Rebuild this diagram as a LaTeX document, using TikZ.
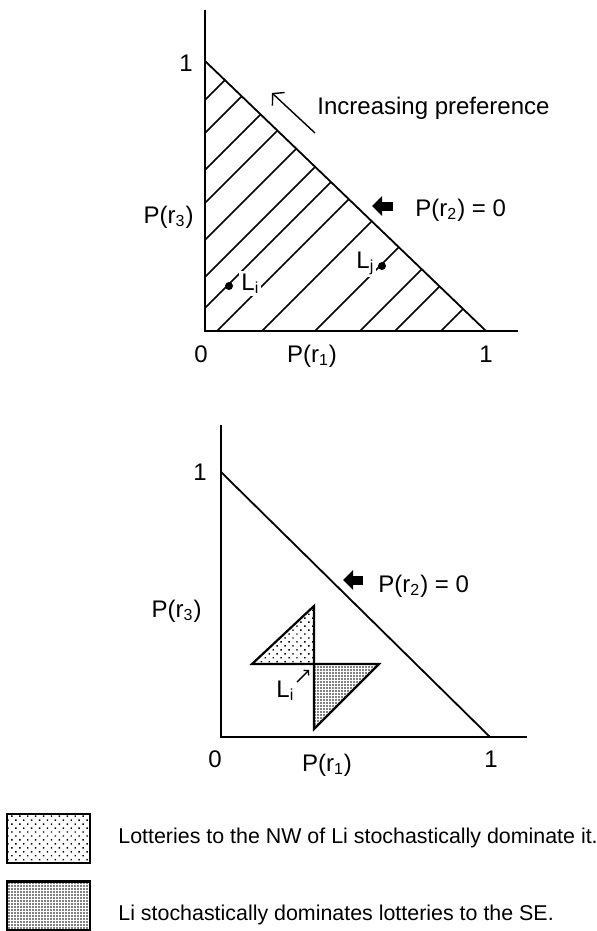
\documentclass[tikz,border=0pt]{standalone}
\usepackage{fontspec}
\setmainfont{Liberation Sans}
\usetikzlibrary{arrows.meta,patterns.meta}

\begin{document}
\begin{tikzpicture}[x=0.5pt,y=-0.5pt,>=Latex,
  every node/.style={font=\fontsize{12}{14}\selectfont,inner sep=0pt},
  legtext/.style={font=\fontsize{10.7}{13}\selectfont},
  axis/.style={line width=1.2pt},
  budget/.style={line width=0.9pt},
  hatchline/.style={line width=0.85pt},
  tri/.style={line width=1.1pt,line join=miter},
  legbox/.style={draw,line width=1.3pt,minimum width=41.5pt,minimum height=24.5pt},
  fatarrow/.style={line width=4.5pt,-{Triangle[length=5pt,width=9.5pt]}},
  bigbarb/.style={line width=0.7pt,-{Straight Barb[length=4pt,width=9pt]}},
  smallbarb/.style={line width=0.7pt,-{Straight Barb[length=1.6pt,width=3.6pt]}},
  nwfill/.style={pattern={Dots[distance=2.8pt,angle=45,radius=0.5pt]}},
  sefill/.style={pattern={Dots[distance=1.5pt,radius=0.4pt]}},
  lot/.style={circle,fill,inner sep=0pt,minimum size=4pt},
  gap/.style={fill=white,inner sep=1pt}]
  \useasboundingbox (0,0) rectangle (597,931);

  \coordinate (topA) at (205,61);
  \coordinate (origA) at (205,331);
  \coordinate (rightA) at (486,331);
  \begin{scope}
    \clip (topA) -- (origA) -- (rightA) -- cycle;
    \foreach \c in {231,198,161,128,91,54,23,-12,-57,-110,-155,-190,-236}{
      \draw[hatchline] ({205-300},{631-(\c)}) -- ({205+300},{31-(\c)});
    }
  \end{scope}
  \draw[axis] (205,10) -- (origA) -- (518,331);
  \draw[budget] (topA) -- (rightA);
  \node[anchor=base east] (oneA) at (193,72) {1};
  \node[anchor=base east] (pthreeA) at (194,223) {P(r\textsubscript{3})};
  \node[anchor=base] (zeroA) at (201,362) {0};
  \node[anchor=base] (poneA) at (312,362) {P(r\textsubscript{1})};
  \node[anchor=base] (unitA) at (486,362) {1};
  \node[anchor=base west] (prefA) at (317,114) {Increasing preference};
  \node[anchor=base west] (ptwoA) at (415,216) {P(r\textsubscript{2}) = 0};
  \coordinate (prefS) at (315,133);
  \coordinate (prefE) at (272,93);
  \draw[bigbarb] (prefS) -- (prefE);
  \coordinate (fatSA) at (393,206);
  \coordinate (fatEA) at (372,206);
  \draw[fatarrow] (fatSA) -- (fatEA);
  \node[lot] (Li) at (229,286) {};
  \node[anchor=base west,gap] (LiA) at (239,290) {L\textsubscript{i}};
  \node[lot] (Lj) at (382,266) {};
  \node[anchor=base west,gap] (LjA) at (354,268) {L\textsubscript{j}};

  \coordinate (topB) at (221,472);
  \coordinate (origB) at (221,737);
  \coordinate (rightB) at (490,737);
  \coordinate (LiB) at (314,664);
  \draw[tri,nwfill] (LiB) -- (252,664) -- (314,606) -- cycle;
  \draw[tri,sefill] (LiB) -- (379,664) -- (314,729) -- cycle;
  \draw[axis] (221,425) -- (origB) -- (527,737);
  \draw[budget] (topB) -- (rightB);
  \node[anchor=base east] (oneB) at (207,480) {1};
  \node[anchor=base east] (pthreeB) at (202,617) {P(r\textsubscript{3})};
  \node[anchor=base] (zeroB) at (215,767) {0};
  \node[anchor=base] (poneB) at (327,771) {P(r\textsubscript{1})};
  \node[anchor=base] (unitB) at (491,767) {1};
  \node[anchor=base west] (ptwoB) at (378,592) {P(r\textsubscript{2}) = 0};
  \coordinate (fatSB) at (363,580);
  \coordinate (fatEB) at (343,580);
  \draw[fatarrow] (fatSB) -- (fatEB);
  \node[anchor=base west] (LiLabB) at (276,697) {L\textsubscript{i}};
  \coordinate (LiArrS) at (297,682);
  \coordinate (LiArrE) at (309,670);
  \draw[smallbarb] (LiArrS) -- (LiArrE);

  \node[legbox,nwfill] (boxNW) at (48.5,838.5) {};
  \node[anchor=base west,legtext] (legNW) at (118,843) {Lotteries to the NW of Li stochastically dominate it.};
  \node[legbox,sefill] (boxSE) at (48.5,906) {};
  \node[anchor=base west,legtext] (legSE) at (118,920) {Li stochastically dominates lotteries to the SE.};
\end{tikzpicture}
\end{document}
